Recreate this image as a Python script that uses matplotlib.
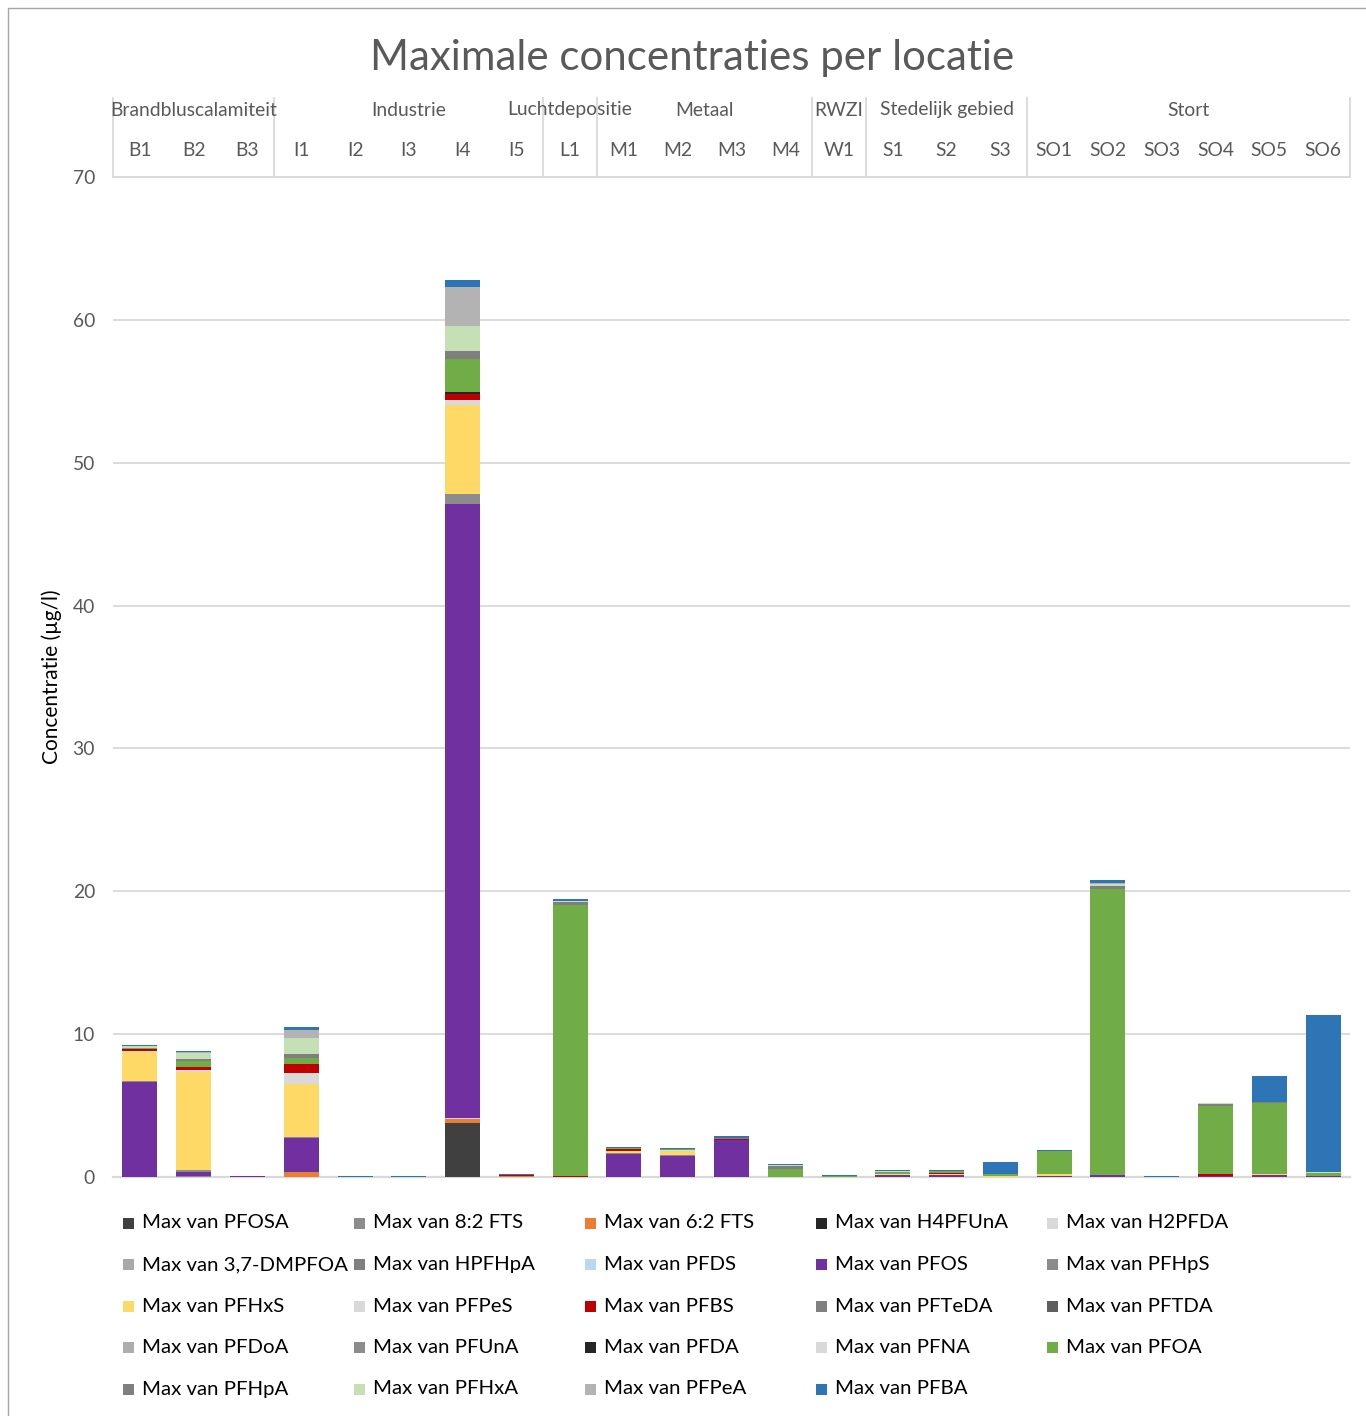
import matplotlib
matplotlib.use("Agg")
import matplotlib.pyplot as plt
import matplotlib.transforms as mtransforms
from matplotlib.patches import Rectangle
import numpy as np

plt.rcParams['font.family'] = ['Lato', 'DejaVu Sans']

# ---------------- data ----------------
locations = ["B1", "B2", "B3", "I1", "I2", "I3", "I4", "I5", "L1", "M1", "M2", "M3", "M4",
             "W1", "S1", "S2", "S3", "SO1", "SO2", "SO3", "SO4", "SO5", "SO6"]
groups = ["Brandbluscalamiteit", "Industrie", "Luchtdepositie", "Metaal", "RWZI",
          "Stedelijk gebied", "Stort"]
group_sizes = [3, 5, 1, 4, 1, 3, 6]

#            B1    B2    B3    I1    I2    I3    I4     I5    L1     M1    M2    M3    M4    W1    S1    S2    S3    SO1   SO2   SO3   SO4   SO5   SO6
pfosa    = [0,    0,    0,    0,    0,    0,    3.76,  0,    0,     0,    0,    0,    0,    0,    0,    0,    0,    0,    0,    0,    0,    0,    0]
fts82    = [0,    0.05, 0,    0,    0,    0,    0,     0,    0,     0,    0,    0,    0,    0,    0,    0,    0,    0,    0,    0,    0,    0,    0]
fts62    = [0,    0,    0,    0.35, 0,    0,    0.30,  0.04, 0,     0,    0,    0,    0,    0,    0,    0,    0,    0,    0,    0,    0,    0,    0]
h4pfuna  = [0] * 23
h2pfda   = [0] * 23
dmpfoa   = [0] * 23
hpfhpa   = [0] * 23
pfds     = [0,    0,    0,    0,    0,    0,    0.06,  0,    0,     0,    0,    0,    0,    0,    0,    0,    0,    0,    0,    0,    0,    0,    0]
pfos     = [6.63, 0.28, 0.10, 2.38, 0,    0,    43.0,  0,    0,     1.61, 1.45, 2.59, 0,    0,    0.14, 0.14, 0,    0.09, 0.16, 0,    0.09, 0.12, 0.10]
pfhps    = [0.07, 0.16, 0,    0.09, 0,    0,    0.70,  0,    0,     0.07, 0.09, 0,    0,    0,    0,    0,    0,    0,    0,    0,    0,    0,    0]
pfhxs    = [2.03, 6.88, 0,    3.71, 0,    0,    6.25,  0,    0,     0.12, 0.28, 0,    0,    0,    0.07, 0.07, 0.09, 0.09, 0,    0,    0,    0.12, 0]
pfpes    = [0.12, 0.12, 0,    0.75, 0,    0,    0.33,  0,    0,     0,    0.05, 0,    0,    0,    0,    0,    0,    0,    0,    0,    0,    0,    0]
pfbs     = [0.12, 0.23, 0,    0.61, 0,    0,    0.42,  0.07, 0.10,  0.14, 0,    0.07, 0,    0,    0,    0.09, 0,    0,    0,    0,    0.10, 0,    0]
pfteda   = [0] * 23
pftda    = [0] * 23
pfdoa    = [0] * 23
pfuna    = [0] * 23
pfda     = [0,    0,    0,    0,    0,    0,    0.10,  0,    0,     0,    0,    0,    0,    0,    0,    0,    0,    0,    0,    0,    0,    0,    0]
pfna     = [0] * 23
pfoa     = [0.09, 0.42, 0,    0.47, 0,    0,    2.33,  0,    18.93, 0.07, 0.07, 0,    0.58, 0.09, 0.12, 0.09, 0.14, 1.61, 20.0, 0,    4.81, 4.95, 0.16]
pfhpa    = [0,    0.09, 0,    0.23, 0,    0,    0.54,  0,    0.21,  0,    0,    0.09, 0.16, 0,    0,    0.05, 0,    0,    0.21, 0,    0.09, 0.09, 0]
pfhxa    = [0.09, 0.42, 0,    1.17, 0,    0,    1.75,  0,    0.05,  0,    0,    0,    0.09, 0,    0.07, 0,    0,    0,    0.12, 0,    0.07, 0,    0.07]
pfpea    = [0,    0.09, 0,    0.51, 0,    0,    2.78,  0,    0.05,  0,    0,    0,    0,    0,    0,    0,    0,    0,    0.07, 0,    0,    0,    0]
pfba     = [0.09, 0.09, 0,    0.23, 0.05, 0.05, 0.47,  0.10, 0.09,  0.09, 0.07, 0.09, 0.09, 0.07, 0.09, 0.05, 0.84, 0.07, 0.26, 0.10, 0,    1.82, 10.99]

series_labels = ["Max van PFOSA", "Max van 8:2 FTS", "Max van 6:2 FTS", "Max van H4PFUnA",
                 "Max van H2PFDA", "Max van 3,7-DMPFOA", "Max van HPFHpA", "Max van PFDS",
                 "Max van PFOS", "Max van PFHpS", "Max van PFHxS", "Max van PFPeS",
                 "Max van PFBS", "Max van PFTeDA", "Max van PFTDA", "Max van PFDoA",
                 "Max van PFUnA", "Max van PFDA", "Max van PFNA", "Max van PFOA",
                 "Max van PFHpA", "Max van PFHxA", "Max van PFPeA", "Max van PFBA"]
series_values = [pfosa, fts82, fts62, h4pfuna, h2pfda, dmpfoa, hpfhpa, pfds, pfos, pfhps,
                 pfhxs, pfpes, pfbs, pfteda, pftda, pfdoa, pfuna, pfda, pfna, pfoa,
                 pfhpa, pfhxa, pfpea, pfba]
series_colors = ["#404040", "#8C8C8C", "#ED7D31", "#262626", "#D9D9D9", "#A9A9A9", "#7F7F7F",
                 "#BDD7EE", "#7030A0", "#8C8C8C", "#FFD966", "#D9D9D9", "#C00000", "#808080",
                 "#5F5F5F", "#ADADAD", "#8C8C8C", "#262626", "#D9D9D9", "#70AD47", "#7F7F7F",
                 "#C5E0B4", "#B3B3B3", "#2E75B6"]

yticks = [0, 10, 20, 30, 40, 50, 60, 70]

# ---------------- figure ----------------
W, H = 1366, 1416
fig = plt.figure(figsize=(W / 100, H / 100), dpi=100)
renderer = fig.canvas.get_renderer()


def fit(s, target, **kw):
    t = fig.text(0, 0, s, fontsize=20, **kw)
    w = t.get_window_extent(renderer).width
    t.remove()
    return 20 * target / w


fs_title = fit("Maximale concentraties per locatie", 646)
fs_leg = fit("Max van PFOSA", 146)
fs_hdr = fit("Brandbluscalamiteit", 167)
fs_ylab = fit("Concentratie (µg/l)", 175)

# outer border of the chart area
fig.patches.append(Rectangle((8 / W, -0.01), 1.05, 1 - 8 / H + 0.01, transform=fig.transFigure,
                             fill=False, ec="#A6A6A6", lw=1.0))

ax = fig.add_axes([113 / W, 1 - 1177 / H, 1237 / W, 1000 / H])
x = np.arange(len(locations))
bottom = np.zeros(len(locations))
for lab, vals, col in zip(series_labels, series_values, series_colors):
    v = np.array(vals, dtype=float)
    ax.bar(x, v, width=0.65, bottom=bottom, color=col, label=lab, linewidth=0, zorder=3)
    bottom += v

ax.set_xlim(-0.5, len(locations) - 0.5)
ax.set_ylim(0, 70)
ax.set_yticks(yticks)
ax.set_xticks([])
ax.yaxis.grid(True, color="#D9D9D9", lw=1.3, zorder=0)
ax.set_axisbelow(True)
for s in ["left", "right"]:
    ax.spines[s].set_visible(False)
ax.spines["bottom"].set_color("#D9D9D9")
ax.spines["bottom"].set_linewidth(1.6)
ax.spines["top"].set_color("#D9D9D9")
ax.spines["top"].set_linewidth(1.3)
ax.tick_params(axis="y", length=0, pad=13, labelcolor="#595959", labelsize=fs_hdr)
for lbl in ax.get_yticklabels():
    lbl.set_fontsize(fs_hdr)

ax.set_ylabel("Concentratie (µg/l)", fontsize=fs_ylab, color="#000000")
ax.yaxis.set_label_coords((62 - 113) / 1237, 0.5)

# ---- multi-level category header above the plot ----
trans = mtransforms.blended_transform_factory(ax.transData, ax.transAxes)
y_cat = (1177 - 150) / 1000
y_grp = (1177 - 110) / 1000
y_sep = (1177 - 97) / 1000
for i, loc in enumerate(locations):
    ax.text(i, y_cat, loc, transform=trans, ha="center", va="center", fontsize=fs_hdr,
            color="#595959", clip_on=False)
start = 0
bounds = [-0.5]
for g, n in zip(groups, group_sizes):
    cx = start + (n - 1) / 2
    ax.text(cx, y_grp, g, transform=trans, ha="center", va="center", fontsize=fs_hdr,
            color="#595959", clip_on=False)
    start += n
    bounds.append(start - 0.5)
for b in bounds:
    ax.plot([b, b], [1.0, y_sep], transform=trans, color="#D9D9D9", lw=1.3, clip_on=False,
            solid_capstyle="butt")

# ---- title ----
fig.text(692 / W, 1 - 58 / H, "Maximale concentraties per locatie", ha="center", va="center",
         fontsize=fs_title, color="#595959")

# ---- legend (5 equal columns, Excel style) ----
for i, (lab, col) in enumerate(zip(series_labels, series_colors)):
    r, c = divmod(i, 5)
    x0 = 123 + 231 * c
    yc = 1223 + 41.5 * r
    fig.patches.append(Rectangle((x0 / W, 1 - (yc + 5.5) / H), 11 / W, 11 / H,
                                 transform=fig.transFigure, color=col, lw=0))
    fig.text((x0 + 19) / W, 1 - yc / H, lab, ha="left", va="center", fontsize=fs_leg,
             color="#000000")

fig.savefig("out.png", dpi=100)
